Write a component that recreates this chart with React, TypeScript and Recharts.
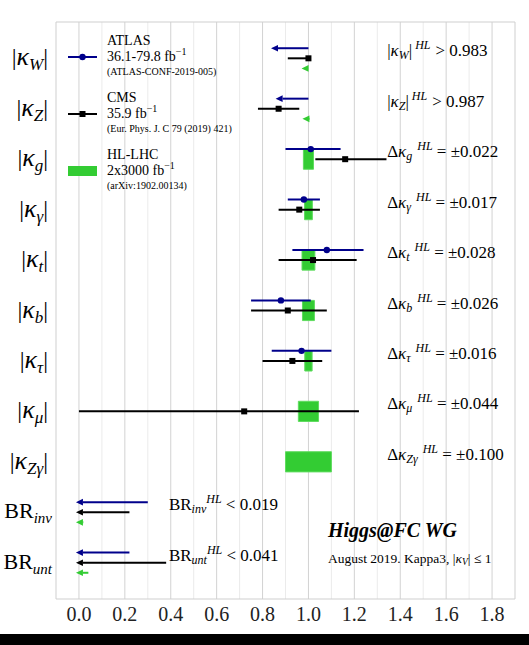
import React from "react";
import {
  CartesianGrid,
  ComposedChart,
  ErrorBar,
  Legend,
  ReferenceArea,
  ReferenceDot,
  ReferenceLine,
  Scatter,
  XAxis,
  YAxis,
} from "recharts";

const FONT = '"Liberation Serif", "DejaVu Serif", serif';
const BLUE = "#00008b";
const BLACK = "#000000";
const GREEN = "#33cc33";

// rows, top to bottom
const rowIndex = [0, 1, 2, 3, 4, 5, 6, 7, 8, 9, 10];
const rowSubs = ["W", "Z", "g", "γ", "t", "b", "τ", "μ", "Zγ", "inv", "unt"];
const hlText = ["0.983", "0.987", "0.022", "0.017", "0.028", "0.026", "0.016", "0.044", "0.100", "0.019", "0.041"];

// ATLAS 36.1-79.8 fb-1 : value and interval edges
const atlasRows = [2, 3, 4, 5, 6];
const atlasValue = [1.01, 0.98, 1.08, 0.88, 0.97];
const atlasLow = [0.9, 0.91, 0.93, 0.75, 0.84];
const atlasHigh = [1.14, 1.05, 1.24, 1.01, 1.1];

// CMS 35.9 fb-1
const cmsRows = [0, 1, 2, 3, 4, 5, 6, 7];
const cmsValue = [1.0, 0.87, 1.16, 0.96, 1.02, 0.91, 0.93, 0.72];
const cmsLow = [0.91, 0.78, 1.03, 0.87, 0.87, 0.75, 0.8, 0.0];
const cmsHigh = [1.0, 0.96, 1.34, 1.05, 1.21, 1.08, 1.06, 1.22];

// limits drawn as arrows (from -> to)
const atlasLimitRows = [0, 1, 9, 10];
const atlasLimitFrom = [1.0, 1.0, 0.3, 0.22];
const atlasLimitTo = [0.85, 0.87, 0, 0];

const cmsLimitRows = [9, 10];
const cmsLimitFrom = [0.22, 0.38];
const cmsLimitTo = [0, 0];

const hlLimitRows = [0, 1, 9, 10];
const hlLimitFrom = [1.0, 1.0, 0.019, 0.041];
const hlLimitTo = [0.983, 0.987, 0, 0];

// HL-LHC projected precision, boxes around 1
const hlBoxRows = [2, 3, 4, 5, 6, 7, 8];
const hlBoxErr = [0.022, 0.017, 0.028, 0.026, 0.016, 0.044, 0.1];

const xTicks = [0, 0.2, 0.4, 0.6, 0.8, 1.0, 1.2, 1.4, 1.6, 1.8];
const xMinor = [0.1, 0.3, 0.5, 0.7, 0.9, 1.1, 1.3, 1.5, 1.7];

const legendNames = ["ATLAS", "CMS", "HL-LHC"];
const legendLumi = ["36.1-79.8", "35.9", "2x3000"];
const legendRefs = ["(ATLAS-CONF-2019-005)", "(Eur. Phys. J. C 79 (2019) 421)", "(arXiv:1902.00134)"];

const X_DOMAIN = [-0.1, 1.9];
const Y_DOMAIN = [-0.72, 10.72];
const OFF = 0.2;

const atlasData = atlasRows.map((r, i) => ({
  x: atlasValue[i],
  y: r - OFF,
  err: [atlasValue[i] - atlasLow[i], atlasHigh[i] - atlasValue[i]],
}));
const cmsData = cmsRows.map((r, i) => ({
  x: cmsValue[i],
  y: r,
  err: [cmsValue[i] - cmsLow[i], cmsHigh[i] - cmsValue[i]],
}));

function arrowShape(color: string) {
  return (p: any) => {
    const { x1, y1, x2, y2 } = p;
    const dir = x2 < x1 ? -1 : 1;
    const tip = x2 + dir * 3;
    const base = x2 - dir * 4;
    return (
      <g>
        <line x1={x1} y1={y1} x2={base} y2={y2} stroke={color} strokeWidth={2} />
        <polygon points={`${tip},${y2} ${base},${y2 - 3.3} ${base},${y2 + 3.3}`} fill={color} />
      </g>
    );
  };
}

function RowTick(props: any) {
  const { x, y, payload } = props;
  const i = payload.value;
  const sub = rowSubs[i];
  if (i >= 9) {
    return (
      <text x={x + 4} y={y + 6} textAnchor="end" fontFamily={FONT} fontSize={22} fill="#000">
        <tspan>BR</tspan>
        <tspan fontStyle="italic" fontSize={15} dy={5}>{sub}</tspan>
      </text>
    );
  }
  return (
    <text x={x} y={y + 7} textAnchor="end" fontFamily={FONT} fontSize={24} fill="#000">
      <tspan>|</tspan>
      <tspan fontStyle="italic" fontSize={26}>κ</tspan>
      <tspan fontStyle="italic" fontSize={17} dy={5}>{sub}</tspan>
      <tspan dy={-5}>|</tspan>
    </text>
  );
}

function HLText({ cx, cy, row }: { cx: number; cy: number; row: number }) {
  const sub = rowSubs[row];
  const base = cy - 2;
  const common = { x: cx, y: base, fontFamily: FONT, fontSize: 17, fill: "#000" };
  if (row < 2) {
    return (
      <text {...common}>
        <tspan>|</tspan>
        <tspan fontStyle="italic">κ</tspan>
        <tspan fontStyle="italic" fontSize={12} dy={3}>{sub}</tspan>
        <tspan dy={-3}>|</tspan>
        <tspan fontStyle="italic" fontSize={12} dy={-7} dx={3}>HL</tspan>
        <tspan dy={7} dx={5}>{"> " + hlText[row]}</tspan>
      </text>
    );
  }
  if (row < 9) {
    return (
      <text {...common}>
        <tspan>Δ</tspan>
        <tspan fontStyle="italic">κ</tspan>
        <tspan fontStyle="italic" fontSize={12} dy={3}>{sub}</tspan>
        <tspan fontStyle="italic" fontSize={12} dy={-10} dx={5}>HL</tspan>
        <tspan dy={7}>{" = ±" + hlText[row]}</tspan>
      </text>
    );
  }
  return (
    <text {...common}>
      <tspan>BR</tspan>
      <tspan fontStyle="italic" fontSize={12} dy={3}>{sub}</tspan>
      <tspan fontStyle="italic" fontSize={12} dy={-10}>HL</tspan>
      <tspan dy={7}>{" < " + hlText[row]}</tspan>
    </text>
  );
}

const renderLegend = () => (
  <svg width={220} height={175} style={{ overflow: "visible", display: "block" }}>
    {legendNames.map((name, i) => {
      const t = i * 57;
      return (
        <g key={name}>
          {i === 0 && (
            <>
              <line x1={8} x2={37} y1={t + 29} y2={t + 29} stroke={BLUE} strokeWidth={2} />
              <circle cx={22.5} cy={t + 29} r={3.2} fill={BLUE} />
            </>
          )}
          {i === 1 && (
            <>
              <line x1={8} x2={37} y1={t + 29} y2={t + 29} stroke={BLACK} strokeWidth={2} />
              <rect x={19.5} y={t + 26} width={6} height={6} fill={BLACK} />
            </>
          )}
          {i === 2 && <rect x={8} y={t + 24} width={29} height={10} fill={GREEN} />}
          <text x={47} y={t + 17} fontFamily={FONT} fontSize={14} fill="#000">{name}</text>
          <text x={47} y={t + 33} fontFamily={FONT} fontSize={14} fill="#000">
            {legendLumi[i] + " fb"}
            <tspan fontSize={10} dy={-6}>−1</tspan>
          </text>
          <text x={47} y={t + 47} fontFamily={FONT} fontSize={10} fill="#000">{legendRefs[i]}</text>
        </g>
      );
    })}
  </svg>
);

export default function App() {
  return (
    <div style={{ position: "absolute", left: 0, top: 0, width: 529, height: 645, background: "#fff" }}>
      <ComposedChart width={529} height={645} margin={{ top: 22, right: 14, bottom: 0, left: 0 }}>
        <CartesianGrid horizontal={false} verticalValues={xMinor} stroke="#ebebeb" strokeWidth={1} />
        <CartesianGrid horizontal={false} verticalValues={xTicks} stroke="#d2d2d2" strokeWidth={1} />
        <CartesianGrid
          horizontalValues={Y_DOMAIN}
          verticalValues={X_DOMAIN}
          stroke="#cfcfcf"
          strokeWidth={1}
        />
        <XAxis
          type="number"
          dataKey="x"
          domain={X_DOMAIN}
          allowDataOverflow
          ticks={xTicks}
          tickFormatter={(v: number) => v.toFixed(1)}
          tickLine={false}
          axisLine={false}
          height={46}
          tick={{ fontFamily: FONT, fontSize: 20, fill: "#222" }}
        />
        <YAxis
          type="number"
          dataKey="y"
          domain={Y_DOMAIN}
          allowDataOverflow
          reversed
          ticks={rowIndex}
          interval={0}
          tickLine={false}
          axisLine={false}
          width={56}
          tick={<RowTick />}
        />
        {hlBoxRows.map((r, i) => (
          <ReferenceArea
            key={"box" + r}
            x1={1 - hlBoxErr[i]}
            x2={1 + hlBoxErr[i]}
            y1={r - OFF}
            y2={r + OFF}
            fill={GREEN}
            fillOpacity={1}
            stroke="#5fdc5f"
            strokeWidth={1}
          />
        ))}
        {atlasLimitRows.map((r, i) => (
          <ReferenceLine
            key={"al" + r}
            segment={[
              { x: atlasLimitFrom[i], y: r - OFF },
              { x: atlasLimitTo[i], y: r - OFF },
            ]}
            shape={arrowShape(BLUE)}
          />
        ))}
        {cmsLimitRows.map((r, i) => (
          <ReferenceLine
            key={"cl" + r}
            segment={[
              { x: cmsLimitFrom[i], y: r },
              { x: cmsLimitTo[i], y: r },
            ]}
            shape={arrowShape(BLACK)}
          />
        ))}
        {hlLimitRows.map((r, i) => (
          <ReferenceLine
            key={"hl" + r}
            segment={[
              { x: hlLimitFrom[i], y: r + OFF },
              { x: hlLimitTo[i], y: r + OFF },
            ]}
            shape={arrowShape(GREEN)}
          />
        ))}
        <Scatter
          name="ATLAS"
          data={atlasData}
          isAnimationActive={false}
          shape={(p: any) => <circle cx={p.cx} cy={p.cy} r={3.2} fill={BLUE} />}
        >
          <ErrorBar dataKey="err" direction="x" width={0} stroke={BLUE} strokeWidth={2} isAnimationActive={false} />
        </Scatter>
        <Scatter
          name="CMS"
          data={cmsData}
          isAnimationActive={false}
          shape={(p: any) => <rect x={p.cx - 3} y={p.cy - 3} width={6} height={6} fill={BLACK} />}
        >
          <ErrorBar dataKey="err" direction="x" width={0} stroke={BLACK} strokeWidth={2} isAnimationActive={false} />
        </Scatter>
        {rowIndex.map((r) => (
          <ReferenceDot
            key={"t" + r}
            x={r >= 9 ? 0.392 : 1.343}
            y={r}
            r={0}
            shape={(p: any) => <HLText cx={p.cx} cy={p.cy} row={r} />}
          />
        ))}
        <ReferenceDot
          x={1.085}
          y={9.5}
          r={0}
          shape={(p: any) => (
            <text x={p.cx} y={p.cy} fontFamily={FONT} fontSize={20} fontWeight="bold" fontStyle="italic" fill="#000">
              Higgs@FC WG
            </text>
          )}
        />
        <ReferenceDot
          x={1.085}
          y={10}
          r={0}
          shape={(p: any) => (
            <text x={p.cx} y={p.cy} fontFamily={FONT} fontSize={13.5} fill="#000">
              <tspan>August 2019. Kappa3, |</tspan>
              <tspan fontStyle="italic">κ</tspan>
              <tspan fontStyle="italic" fontSize={9.5} dy={2}>V</tspan>
              <tspan dy={-2}>| ≤ 1</tspan>
            </text>
          )}
        />
        <Legend
          verticalAlign="middle"
          layout="horizontal"
          content={renderLegend}
          wrapperStyle={{ left: 60, top: 28, width: 220, height: 175 }}
        />
      </ComposedChart>
      <div style={{ position: "absolute", left: 0, top: 634, width: 529, height: 11, background: "#000" }} />
    </div>
  );
}
